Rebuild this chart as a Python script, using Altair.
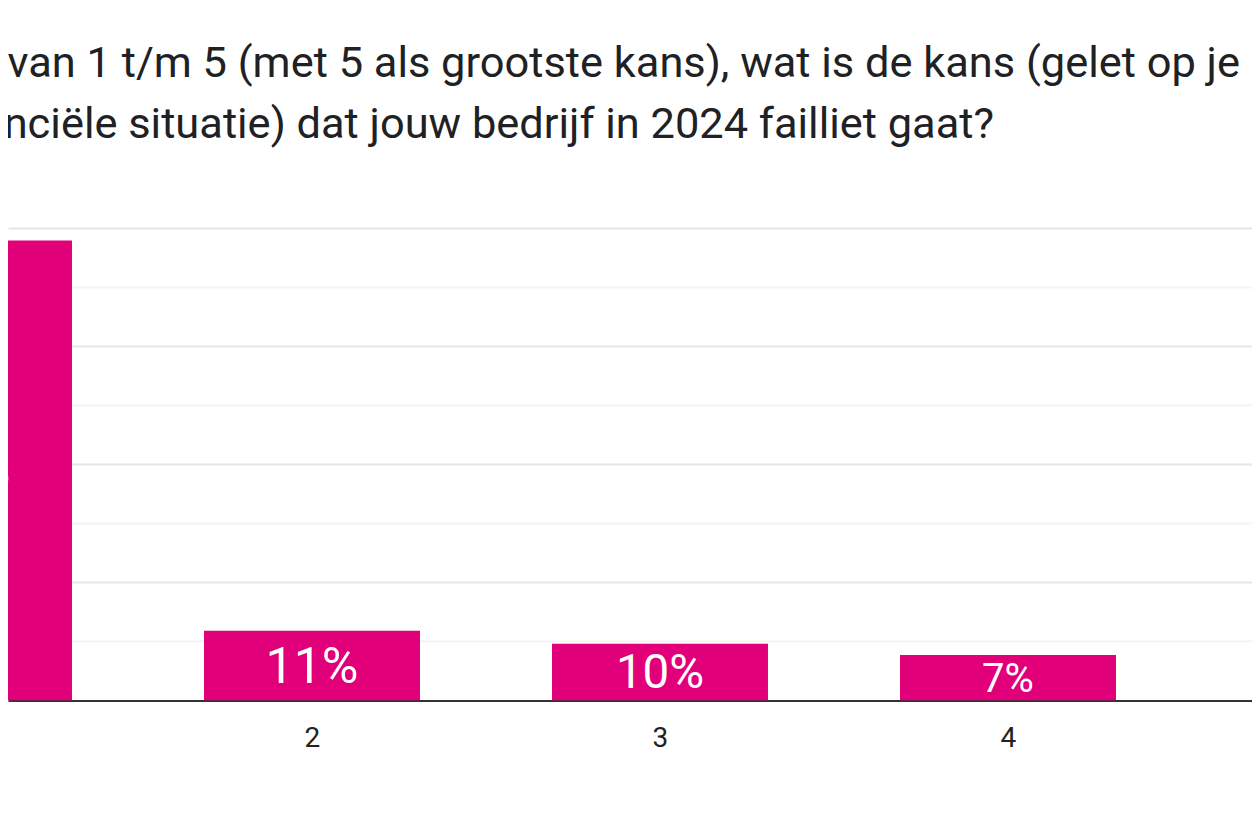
import altair as alt
import pandas as pd

# answers on the 1-5 scale; answer 5 lies outside the crop
categories = [1, 2, 3, 4]
bar_values = [77.9, 11.8, 9.6, 7.7]
pct_labels = [73, 11, 10, 7]
tick_values = [2, 3, 4]

title_line1 = "Op een schaal van 1 t/m 5 (met 5 als grootste kans), wat is de kans (gelet op je"
title_line2 = "financiële situatie) dat jouw bedrijf in 2024 failliet gaat?"

grid_values = [10, 20, 30, 40, 50, 60, 70, 80]

df = pd.DataFrame({"cat": categories, "value": bar_values, "pct": pct_labels})

PINK = "#e2007a"
HALF = 0.3103  # half bar width, in answer units

base = alt.Chart(df).transform_calculate(
    x0=f"datum.cat - {HALF}",
    x1=f"datum.cat + {HALF}",
    mid="datum.value / 2",
    lbl="datum.pct + '%'",
)

x_scale = alt.Scale(domain=[1.126437, 4.701150], nice=False, zero=False)
y_scale = alt.Scale(domain=[0, 80], nice=False)

bars = base.mark_bar(color=PINK, clip=True).encode(
    x=alt.X(
        "x0:Q",
        scale=x_scale,
        axis=alt.Axis(
            title=None,
            values=tick_values,
            format="d",
            labelAngle=0,
            ticks=False,
            grid=False,
            domainColor="#333333",
            domainWidth=2,
            labelFont="Roboto",
            labelFontSize=28,
            labelColor="#222222",
            labelPadding=24,
            labelFlush=False,
            labelOverlap=False,
        ),
    ),
    x2="x1:Q",
    y=alt.Y(
        "value:Q",
        scale=y_scale,
        axis=alt.Axis(
            title=None,
            values=grid_values,
            labels=False,
            ticks=False,
            domain=False,
            gridColor=alt.condition(
                "datum.value % 20 == 0", alt.value("#e6e6e6"), alt.value("#f4f4f4")
            ),
            gridWidth=2,
        ),
    ),
    y2=alt.datum(0),
)

labels = base.mark_text(
    color="white", font="Roboto", baseline="middle", align="center", clip=True, dy=2
).encode(
    x="cat:Q",
    y="mid:Q",
    text="lbl:N",
    size=alt.Size(
        "pct:Q",
        scale=alt.Scale(domain=[7, 11], range=[40, 50], clamp=True),
        legend=None,
    ),
)

line1 = (
    alt.Chart(pd.DataFrame({"t": [title_line1]}))
    .mark_text(font="Roboto", fontSize=43.4, color="#202124", align="right", baseline="alphabetic")
    .encode(text="t:N", x=alt.value(1232), y=alt.value(-151))
)
line2 = (
    alt.Chart(pd.DataFrame({"t": [title_line2]}))
    .mark_text(font="Roboto", fontSize=43.4, color="#202124", align="right", baseline="alphabetic")
    .encode(text="t:N", x=alt.value(986), y=alt.value(-90))
)

chart = (
    alt.layer(bars, labels, line1, line2)
    .properties(
        width=1244,
        height=472.5,
        autosize="none",
        padding={"left": 0, "right": 0, "top": 220, "bottom": 98},
        background="white",
    )
    .configure_view(stroke=None)
)

chart.save("out.html", embed_options={"renderer": "svg", "actions": False})
